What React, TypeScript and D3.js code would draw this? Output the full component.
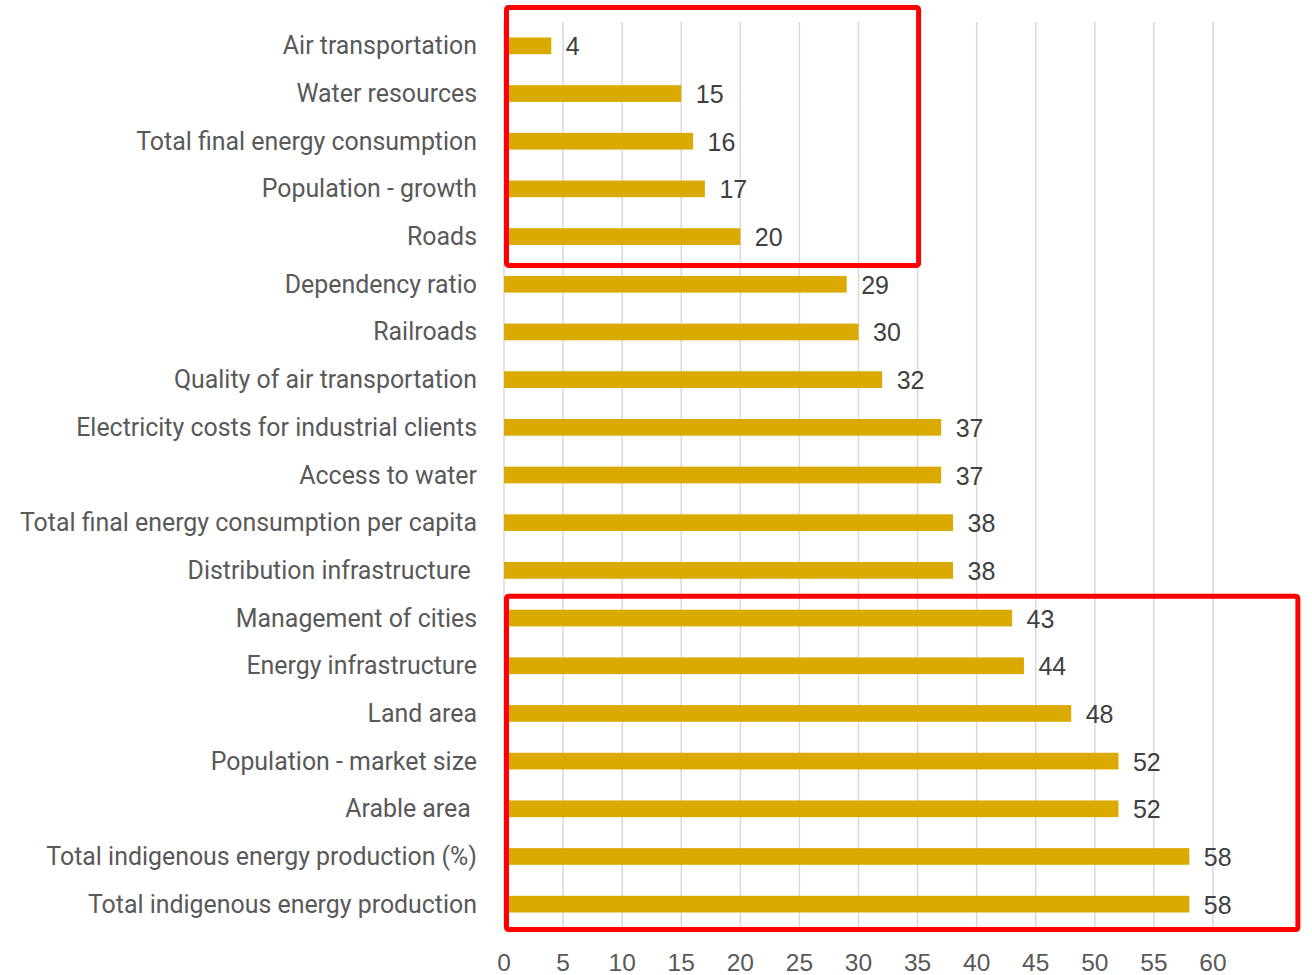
import { useEffect, useRef } from 'react';
import * as d3 from 'd3';

const categories = [
  'Air transportation',
  'Water resources',
  'Total final energy consumption',
  'Population - growth',
  'Roads',
  'Dependency ratio',
  'Railroads',
  'Quality of air transportation',
  'Electricity costs for industrial clients',
  'Access to water',
  'Total final energy consumption per capita',
  'Distribution infrastructure ',
  'Management of cities',
  'Energy infrastructure',
  'Land area',
  'Population - market size',
  'Arable area ',
  'Total indigenous energy production (%)',
  'Total indigenous energy production',
];

const values = [4, 15, 16, 17, 20, 29, 30, 32, 37, 37, 38, 38, 43, 44, 48, 52, 52, 58, 58];

const xTicks = [0, 5, 10, 15, 20, 25, 30, 35, 40, 45, 50, 55, 60];

// highlighted groups: first/last category index and right edge in axis units
const highlightFrom = [0, 12];
const highlightTo = [4, 18];
const highlightXMax = [35, 67.1];

const W = 1312;
const H = 975;

export default function App() {
  const svgRef = useRef<SVGSVGElement>(null);

  useEffect(() => {
    const svg = d3.select(svgRef.current!);
    svg.selectAll('*').remove();

    const x = d3.scaleLinear().domain([0, 60]).range([504, 1213]);
    const y = d3.scaleBand<string>().domain(categories).range([22, 928])
      .paddingInner(0.65).paddingOuter(0.325);
    const step = y.step();
    const bw = y.bandwidth();

    // Grid lines
    svg.append('g').selectAll('line').data(xTicks).join('line')
      .attr('x1', (d) => x(d)).attr('x2', (d) => x(d))
      .attr('y1', 22).attr('y2', 928)
      .attr('stroke', '#d9d9d9').attr('stroke-width', 1.5);

    // Tick labels
    svg.append('g').selectAll('text').data(xTicks).join('text')
      .attr('x', (d) => x(d)).attr('y', 971)
      .attr('text-anchor', 'middle')
      .attr('font-family', '"Liberation Sans", Arial, sans-serif').attr('font-size', 24.5)
      .attr('fill', '#595959')
      .text((d) => String(d));

    // Bars
    svg.append('g').selectAll('rect').data(values).join('rect')
      .attr('x', x(0))
      .attr('y', (_, i) => y(categories[i])!)
      .attr('width', (d) => x(d) - x(0))
      .attr('height', bw)
      .attr('fill', '#DAAA00');

    // Value labels
    svg.append('g').selectAll('text').data(values).join('text')
      .attr('x', (d) => x(d) + 14.5)
      .attr('y', (_, i) => y(categories[i])! + bw / 2 + 9.5)
      .attr('font-family', '"Liberation Sans", Arial, sans-serif').attr('font-size', 25)
      .attr('fill', '#404040')
      .text((d) => String(d));

    // Category labels
    svg.append('g').selectAll('text').data(categories).join('text')
      .attr('x', 477)
      .attr('y', (d) => y(d)! + bw / 2 + 8.5)
      .attr('text-anchor', 'end')
      .attr('font-family', 'Roboto, sans-serif').attr('font-size', 24.9)
      .attr('fill', '#595959')
      .style('white-space', 'pre')
      .text((d) => d);

    // Highlight boxes
    highlightFrom.forEach((f, i) => {
      const top = i === 0 ? 7.5 : y(categories[f])! - (step - bw) / 2 + 2;
      const bottom = y(categories[highlightTo[i]])! + bw + (step - bw) / 2 + (i === 0 ? 5 : 1.5);
      svg.append('rect')
        .attr('x', x(0) + 2.5).attr('y', top)
        .attr('width', x(highlightXMax[i]) - x(0) - 1.5)
        .attr('height', bottom - top)
        .attr('rx', 2)
        .attr('fill', 'none').attr('stroke', '#FF0000').attr('stroke-width', 5);
    });
  }, []);

  return (
    <svg ref={svgRef} width={W} height={H}
      style={{ position: 'absolute', left: 0, top: 0, background: '#fff' }} />
  );
}
